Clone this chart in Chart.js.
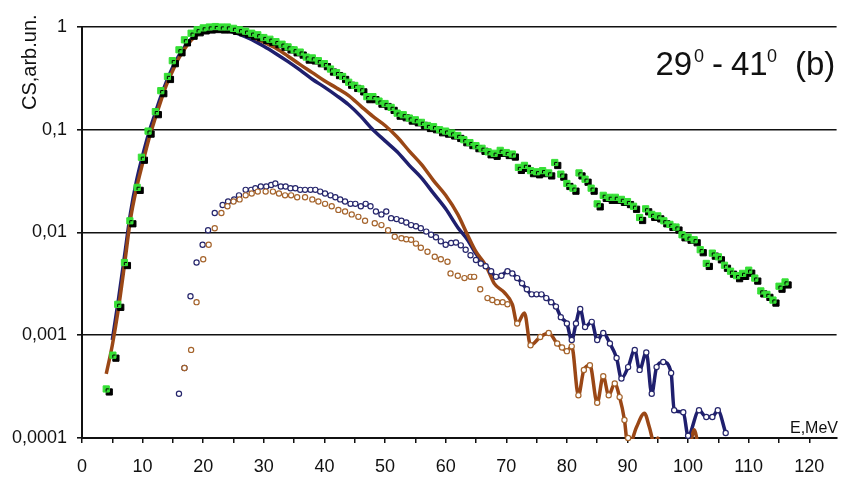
<!DOCTYPE html>
<html>
<head>
<meta charset="utf-8">
<script src="https://cdn.jsdelivr.net/npm/chart.js@4.4.1/dist/chart.umd.min.js"></script>
<style>
  html, body { margin: 0; padding: 0; background: #fff; }
  #wrap { width: 842px; height: 477px; }
</style>
</head>
<body>
<div id="wrap"><canvas id="csChart" width="842" height="477"></canvas></div>
<script>
// experiment (green squares)
const expE = [4, 5.1, 5.9, 7, 7.9, 9.1, 9.8, 10.9, 12.1, 13, 14.1, 14.9, 16, 16.9, 18, 19, 20, 21, 22, 23,
  24, 25, 26, 27, 28, 29, 30, 31, 32, 33, 34, 35, 36, 37, 38, 39, 40, 41, 42, 43,
  44, 45, 46, 47, 48, 49, 50, 51, 52, 53, 54, 55, 56, 57, 58, 59, 60, 61, 62, 63,
  64, 65, 66, 67, 68, 69, 70, 71, 72, 73, 74, 75, 76, 77, 78, 79, 80, 81, 82, 83,
  84, 85, 86, 87, 88, 89, 90, 91, 92, 93, 94, 95, 96, 97, 98, 99, 100, 101, 102, 103,
  104, 105, 106, 107, 108, 109, 110, 111, 112, 113, 114, 115, 116];
const expCS = [0.0003, 0.00064, 0.002, 0.0051, 0.013, 0.0275, 0.054, 0.097, 0.15, 0.24, 0.33, 0.47, 0.6, 0.75, 0.87, 0.94, 0.98, 1.0, 1.01, 1.0,
  1.0, 0.97, 0.94, 0.91, 0.87, 0.84, 0.79, 0.76, 0.72, 0.68, 0.64, 0.6, 0.57, 0.51, 0.5, 0.47, 0.44, 0.39, 0.36, 0.33,
  0.29, 0.27, 0.25, 0.21, 0.21, 0.19, 0.18, 0.165, 0.145, 0.14, 0.13, 0.125, 0.118, 0.11, 0.107, 0.1, 0.097, 0.093, 0.088, 0.08,
  0.075, 0.07, 0.066, 0.061, 0.059, 0.063, 0.06, 0.058, 0.043, 0.045, 0.04, 0.039, 0.04, 0.038, 0.048, 0.037, 0.03, 0.027, 0.038, 0.033,
  0.027, 0.019, 0.023, 0.022, 0.022, 0.021, 0.02, 0.018, 0.014, 0.017, 0.015, 0.0145, 0.013, 0.012, 0.0113, 0.0095, 0.009, 0.0085, 0.0068, 0.005,
  0.0063, 0.0058, 0.0048, 0.0042, 0.0038, 0.004, 0.0043, 0.0036, 0.0027, 0.0025, 0.0022, 0.003, 0.0033];

// calculation 1 (navy line)
const navyE = [5, 6, 7, 8, 9, 10, 11, 12, 13, 14, 15, 16, 17, 18, 19, 20, 21, 22, 23, 24,
  25, 26, 27.5, 30, 32, 34, 36, 38, 40, 42, 44, 46, 48, 50, 52, 54, 56, 58, 60, 62,
  63.6, 65, 66.3, 67.5, 68.3, 69.2, 70.2, 71, 71.8, 72.6, 73.4, 74.2, 75, 75.8, 76.6, 77.4, 78.2, 79, 80, 80.8,
  81.5, 82.2, 83, 84.1, 85, 86, 87.1, 88.2, 89, 90.1, 91.2, 92, 93.1, 94, 94.8, 95.9, 97.2, 97.7, 99.2, 100,
  101.8, 103, 104, 104.9, 106.2];
const navyCS = [0.0009, 0.0022, 0.0058, 0.0155, 0.032, 0.056, 0.092, 0.14, 0.21, 0.3, 0.41, 0.53, 0.65, 0.76, 0.85, 0.91, 0.95, 0.96, 0.95, 0.93,
  0.89, 0.85, 0.78, 0.65, 0.55, 0.46, 0.38, 0.31, 0.26, 0.215, 0.175, 0.135, 0.1, 0.078, 0.061, 0.045, 0.034, 0.024, 0.017, 0.0112,
  0.0085, 0.0062, 0.005, 0.0042, 0.0037, 0.0038, 0.0042, 0.004, 0.0036, 0.0032, 0.0028, 0.0025, 0.0025, 0.0025, 0.0023, 0.0021, 0.0019, 0.0015, 0.0013, 0.0009,
  0.0013, 0.0018, 0.0012, 0.00135, 0.0009, 0.00105, 0.00083, 0.0006, 0.00038, 0.00049, 0.00072, 0.00046, 0.00068, 0.00027, 0.00049, 0.00055, 0.00043, 0.000186, 0.000178, 0.000105,
  0.000186, 0.00016, 0.00016, 0.000186, 0.000112];

// calculation 2 (brown line)
const brownE = [4, 5, 6, 7, 8, 9, 10, 11, 12, 13, 14, 15, 16, 17, 18, 19, 20, 21, 22, 23,
  24, 25, 26, 27.5, 30, 32, 34, 36, 38, 40, 42, 44, 46, 48, 50, 52, 54, 56, 58, 60,
  62, 63.6, 65, 66.4, 67, 68, 69.7, 71, 71.8, 73, 74, 75.6, 77, 78.4, 79.2, 80, 80.8, 81.9, 82.8, 83.8,
  85, 86, 86.9, 87.9, 88.7, 89.5, 90.1, 91.5, 92.8, 93.6, 94.4, 95, 95.6, 97, 99.5, 101, 102];
const brownCS = [0.00042, 0.0008, 0.0018, 0.0048, 0.0135, 0.027, 0.047, 0.08, 0.125, 0.19, 0.28, 0.38, 0.5, 0.62, 0.74, 0.84, 0.91, 0.95, 0.96, 0.96,
  0.94, 0.91, 0.88, 0.83, 0.71, 0.62, 0.52, 0.43, 0.36, 0.3, 0.255, 0.215, 0.17, 0.135, 0.11, 0.085, 0.062, 0.046, 0.032, 0.023,
  0.015, 0.0095, 0.0065, 0.005, 0.0043, 0.0032, 0.0026, 0.002, 0.0013, 0.00165, 0.0008, 0.00096, 0.00105, 0.00083, 0.00076, 0.0007, 0.00078, 0.00026, 0.00046, 0.00051,
  0.00022, 0.0004, 0.00026, 0.00034, 0.00025, 0.00015, 0.00008, 0.000128, 0.000174, 0.000128, 0.00009, 0.0001, 0.00008, 0.00004, 0.00004, 0.00012, 0.00006];

// open circles, navy
const navyDotE = [16, 16.9, 17.9, 18.9, 19.9, 20.8, 21.9, 23.2, 24.1, 25.1, 25.9, 27, 27.9, 28.6, 29.5, 30.4, 31.2, 31.9, 32.8, 33.6,
  34.4, 35.2, 36, 36.8, 37.7, 38.5, 39.3, 40.1, 41, 41.8, 42.6, 43.4, 44.3, 45.1, 46, 46.8, 47.6, 48.5, 49.4, 50.2,
  51, 51.9, 52.7, 53.5, 54.3, 55.1, 55.9, 56.8, 57.6, 58.4, 59.2, 60, 60.9, 61.7, 62.5, 63.3, 64.1, 65, 65.8, 66.6,
  67.5, 68.3, 69.2, 70.2, 71, 71.8, 72.6, 73.4, 74.2, 75, 75.8, 76.6, 77.4, 78.2, 79, 80, 80.8, 81.5, 82.2, 83,
  84.1, 85, 86, 87.1, 88.2, 89, 90.1, 91.2, 92, 93.1, 94, 94.8, 95.9, 97.2, 97.7, 99.2, 100, 101.8, 103, 104,
  104.9, 106.2];
const navyDotCS = [0.00027, 0.00048, 0.0024, 0.0051, 0.0076, 0.0105, 0.0155, 0.0185, 0.02, 0.021, 0.023, 0.026, 0.026, 0.027, 0.028, 0.028, 0.029, 0.03, 0.028, 0.028,
  0.027, 0.027, 0.026, 0.026, 0.026, 0.026, 0.025, 0.024, 0.023, 0.022, 0.021, 0.02, 0.019, 0.019, 0.018, 0.019, 0.018, 0.016, 0.015, 0.016,
  0.0138, 0.0135, 0.013, 0.0125, 0.0118, 0.0115, 0.011, 0.0102, 0.0095, 0.009, 0.0082, 0.0076, 0.0079, 0.008, 0.0075, 0.0068, 0.006, 0.0054, 0.005, 0.0047,
  0.0042, 0.0037, 0.0038, 0.0042, 0.004, 0.0036, 0.0032, 0.0028, 0.0025, 0.0025, 0.0025, 0.0023, 0.0021, 0.0019, 0.0015, 0.0013, 0.0009, 0.0013, 0.0018, 0.0012,
  0.00135, 0.0009, 0.00105, 0.00083, 0.0006, 0.00038, 0.00049, 0.00072, 0.00046, 0.00068, 0.00027, 0.00049, 0.00055, 0.00043, 0.000186, 0.000178, 0.000105, 0.000186, 0.00016, 0.00016,
  0.000186, 0.000112];

// open circles, brown
const brownDotE = [16.9, 18, 18.9, 20, 20.9, 21.9, 23, 24, 25, 26, 27, 28, 29, 30.3, 31.5, 32.5, 33.5, 34.5, 35.5, 36.8,
  38, 39, 40.1, 41.2, 42.3, 43.4, 44.5, 45.6, 46.7, 48.3, 49.4, 50.5, 51.6, 52.7, 53.5, 54.3, 55.1, 55.9, 57, 58.2,
  59.2, 60.3, 60.8, 62, 63.1, 64.1, 64.7, 65.7, 66.9, 67.7, 68.5, 69.4, 70.2, 71.8, 74, 75.6, 77, 78.4, 79.2, 80,
  80.8, 81.9, 82.8, 83.8, 85, 86, 86.9, 87.9, 88.7, 89.5, 90.1];
const brownDotCS = [0.00048, 0.00072, 0.0021, 0.0055, 0.0076, 0.011, 0.0155, 0.018, 0.02, 0.021, 0.023, 0.024, 0.025, 0.025, 0.025, 0.024, 0.023, 0.023, 0.022, 0.022,
  0.021, 0.02, 0.019, 0.018, 0.0166, 0.016, 0.015, 0.0142, 0.013, 0.0123, 0.0118, 0.0105, 0.0091, 0.0088, 0.0086, 0.0085, 0.0078, 0.0071, 0.0065, 0.0058,
  0.0055, 0.0052, 0.004, 0.0038, 0.0036, 0.0037, 0.0037, 0.0028, 0.0023, 0.0022, 0.0021, 0.0021, 0.002, 0.0013, 0.0008, 0.00096, 0.00105, 0.00083, 0.00076, 0.0007,
  0.00078, 0.00026, 0.00046, 0.00051, 0.00022, 0.0004, 0.00026, 0.00034, 0.00025, 0.00015, 0.0001];

const yTicks = [0.0001, 0.001, 0.01, 0.1, 1];
const xTicks = [0, 5, 10, 15, 20, 25, 30, 35, 40, 45, 50, 55, 60, 65, 70, 75, 80, 85, 90, 95, 100, 105, 110, 115, 120];

function pts(xs, ys) {
  return xs.map((x, i) => ({ x: x, y: ys[i] }));
}

const FONT = '"Liberation Sans", Arial, sans-serif';
const NAVY = '#1f1f6e';
const BROWN = '#9a4716';

// black drop shadow under the green squares
const shadowPlugin = {
  id: 'shadow',
  beforeDatasetDraw(chart, args) {
    if (!chart.data.datasets[args.index].shadow) return;
    const ctx = chart.ctx;
    ctx.save();
    ctx.shadowColor = '#000';
    ctx.shadowOffsetX = 3;
    ctx.shadowOffsetY = 3;
    ctx.shadowBlur = 0;
  },
  afterDatasetDraw(chart, args) {
    if (!chart.data.datasets[args.index].shadow) return;
    chart.ctx.restore();
  }
};

// texts: y title, panel label, x title
const labelsPlugin = {
  id: 'labels',
  afterDraw(chart) {
    const ctx = chart.ctx;
    ctx.save();
    ctx.fillStyle = '#111';
    ctx.textBaseline = 'alphabetic';

    ctx.save();
    ctx.translate(36, 110);
    ctx.rotate(-Math.PI / 2);
    ctx.font = '20px ' + FONT;
    ctx.fillText('CS,arb.un.', 0, 0);
    ctx.restore();

    const big = '33px ' + FONT, small = '18px ' + FONT;
    ctx.font = big;
    ctx.fillText('29', 655.5, 75);
    ctx.fillText('-', 712, 75);
    ctx.fillText('41', 731, 75);
    ctx.fillText('(b)', 795, 75);
    ctx.font = small;
    ctx.fillText('0', 694, 62);
    ctx.fillText('0', 767, 62);

    ctx.font = '16px ' + FONT;
    ctx.textAlign = 'right';
    ctx.fillText('E,MeV', 838, 433);
    ctx.restore();
  }
};

new Chart(document.getElementById('csChart'), {
  type: 'scatter',
  data: {
    datasets: [
      {
        label: 'exp',
        data: pts(expE, expCS),
        shadow: true,
        pointStyle: 'rect',
        pointRadius: 4.4,
        pointBorderWidth: 1,
        backgroundColor: '#36e036',
        borderColor: '#36e036',
        clip: 8,
        order: 0
      },
      {
        label: 'brown dots',
        data: pts(brownDotE, brownDotCS),
        pointRadius: 2.6,
        pointBorderWidth: 1.2,
        backgroundColor: '#fff',
        borderColor: '#a5642c',
        clip: 4,
        order: 1
      },
      {
        label: 'navy dots',
        data: pts(navyDotE, navyDotCS),
        pointRadius: 2.6,
        pointBorderWidth: 1.2,
        backgroundColor: '#fff',
        borderColor: '#26266c',
        clip: 4,
        order: 2
      },
      {
        label: 'brown line',
        data: pts(brownE, brownCS),
        showLine: true,
        pointRadius: 0,
        borderWidth: 3.5,
        borderColor: BROWN,
        cubicInterpolationMode: 'monotone',
        clip: { left: 0, top: 5, right: 0, bottom: 1 },
        order: 3
      },
      {
        label: 'navy line',
        data: pts(navyE, navyCS),
        showLine: true,
        pointRadius: 0,
        borderWidth: 3.5,
        borderColor: NAVY,
        cubicInterpolationMode: 'monotone',
        clip: { left: 0, top: 5, right: 0, bottom: 1 },
        order: 4
      }
    ]
  },
  options: {
    responsive: false,
    animation: false,
    layout: { padding: { top: 27, right: 0, left: 0, bottom: 0 } },
    plugins: {
      legend: { display: false },
      tooltip: { enabled: false }
    },
    scales: {
      x: {
        type: 'linear',
        min: 0,
        max: 124.5,
        afterBuildTicks: scale => { scale.ticks = xTicks.map(v => ({ value: v })); },
        afterFit: scale => { scale.height = 39; },
        grid: { drawOnChartArea: false, drawTicks: true, tickLength: 5, color: '#111', lineWidth: 1.5 },
        border: { display: true, color: '#111', width: 2 },
        ticks: {
          autoSkip: false,
          maxRotation: 0,
          padding: 13,
          color: '#111',
          font: { family: FONT, size: 18 },
          callback: v => (v % 10 === 0 ? String(v) : '')
        }
      },
      y: {
        type: 'logarithmic',
        min: 0.0001,
        max: 1,
        afterBuildTicks: scale => { scale.ticks = yTicks.map(v => ({ value: v })); },
        afterFit: scale => { scale.width = 82; },
        grid: { color: '#111', lineWidth: 1.6, tickLength: 5 },
        border: { display: true, color: '#111', width: 2 },
        ticks: {
          padding: 10,
          color: '#111',
          font: { family: FONT, size: 18 },
          callback: v => String(v).replace('.', ',')
        }
      }
    }
  },
  plugins: [shadowPlugin, labelsPlugin]
});
</script>
</body>
</html>
